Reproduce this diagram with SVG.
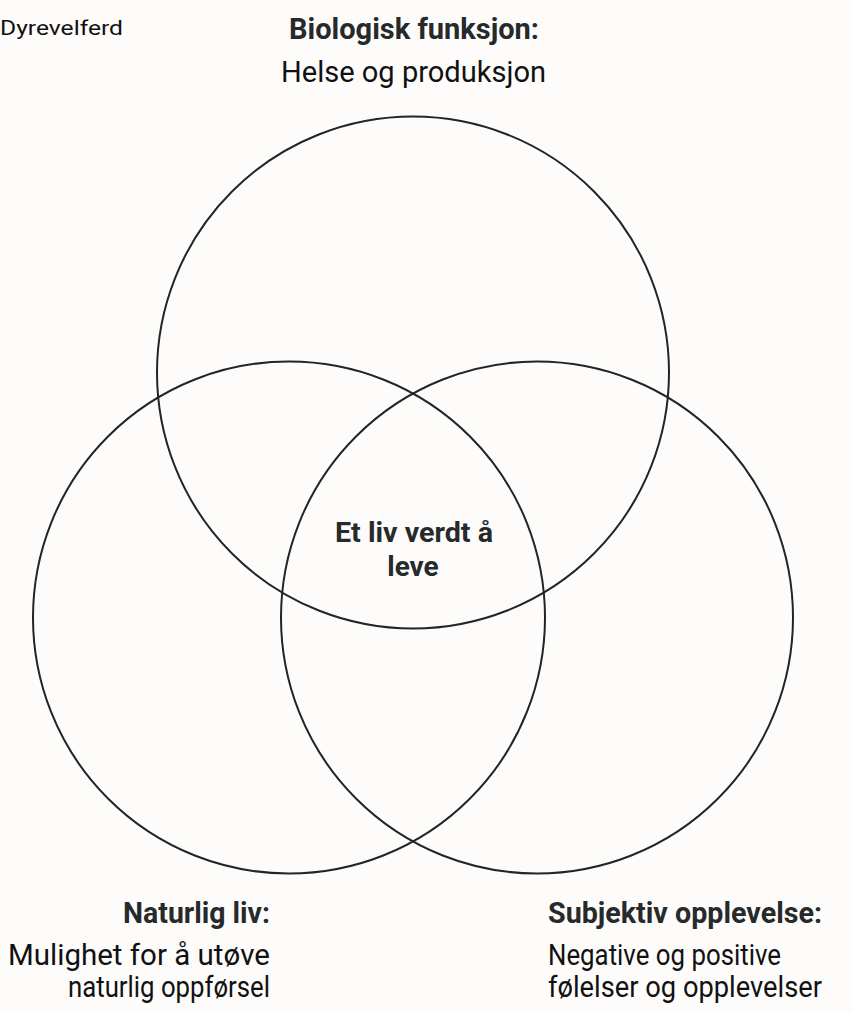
<svg xmlns="http://www.w3.org/2000/svg" width="853" height="1013" viewBox="0 0 853 1013">
<style>
.c{fill:none;stroke:#1f2626;stroke-width:2}
.h{font-family:Roboto,"Liberation Sans",sans-serif;font-weight:700;fill:#262a2a;font-size:30px}
.m{font-family:Roboto,"Liberation Sans",sans-serif;font-weight:700;fill:#262a2a;font-size:28px}
.b{font-family:Roboto,"Liberation Sans",sans-serif;fill:#111;font-size:30px}
</style>
<rect width="853" height="1013" fill="#fdfcfb"/>
<text font-family="Roboto,'Liberation Sans',sans-serif" fill="#111" x="0" y="35" font-size="20" textLength="123" lengthAdjust="spacingAndGlyphs">Dyrevelferd</text>
<g id="circles">
<circle id="top" class="c" cx="413" cy="372.5" r="256"/>
<circle id="left" class="c" cx="289" cy="617.5" r="256"/>
<circle id="right" class="c" cx="537" cy="617.5" r="256"/>
</g>
<g id="label-top">
<text class="h" x="289" y="39" textLength="250" lengthAdjust="spacingAndGlyphs">Biologisk funksjon:</text>
<text class="b" x="281" y="82" textLength="265" lengthAdjust="spacingAndGlyphs">Helse og produksjon</text>
</g>
<g id="label-center">
<text class="m" x="335" y="542" textLength="158" lengthAdjust="spacingAndGlyphs">Et liv verdt å</text>
<text class="m" x="413" y="576" text-anchor="middle">leve</text>
</g>
<g id="label-left">
<text class="h" x="123" y="923" textLength="147" lengthAdjust="spacingAndGlyphs">Naturlig liv:</text>
<text class="b" x="8" y="965" textLength="262" lengthAdjust="spacingAndGlyphs">Mulighet for å utøve</text>
<text class="b" x="68" y="997" textLength="202" lengthAdjust="spacingAndGlyphs">naturlig oppførsel</text>
</g>
<g id="label-right">
<text class="h" x="548" y="923" textLength="274" lengthAdjust="spacingAndGlyphs">Subjektiv opplevelse:</text>
<text class="b" x="548" y="965" textLength="233" lengthAdjust="spacingAndGlyphs">Negative og positive</text>
<text class="b" x="548" y="997" textLength="274" lengthAdjust="spacingAndGlyphs">følelser og opplevelser</text>
</g>
</svg>
